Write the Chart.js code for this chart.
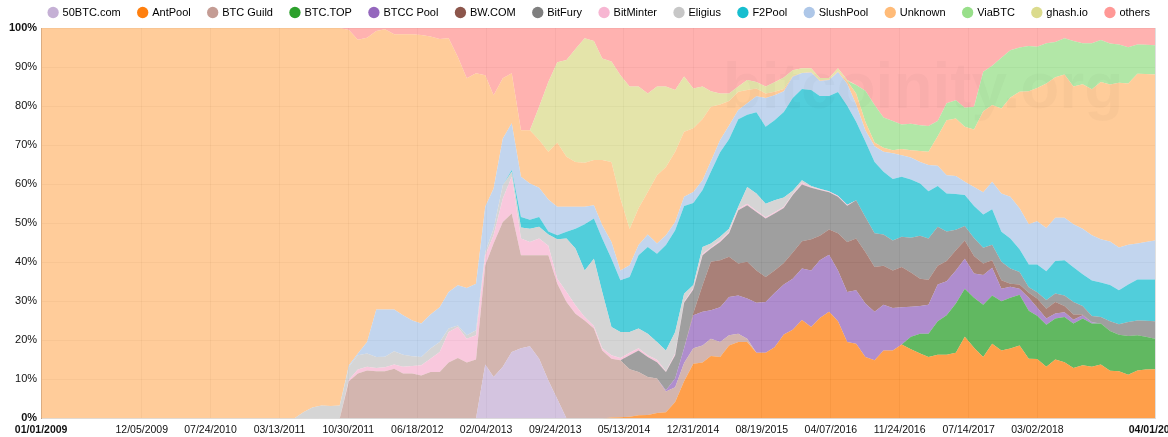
<!DOCTYPE html>
<html>
<head>
<meta charset="utf-8">
<title>Mining pools share</title>
<script src="https://cdn.jsdelivr.net/npm/chart.js@4.4.0/dist/chart.umd.min.js"></script>
<style>
  html, body { margin: 0; padding: 0; background: #fff; }
  #wrap { width: 1168px; height: 437px; }
</style>
</head>
<body>
<div id="wrap"><canvas id="chart" width="1168" height="437"></canvas></div>
<script>
// month of each sample (share in % of blocks found)
const months = [
  '2009-01', '2011-03', '2011-05', '2011-06', '2011-07', '2011-08', '2011-09', '2011-10', '2011-11', '2011-12',
  '2012-01', '2012-02', '2012-03', '2012-04', '2012-05', '2012-06', '2012-07', '2012-08', '2012-09', '2012-10', '2012-11', '2012-12',
  '2013-01', '2013-02', '2013-03', '2013-04', '2013-05', '2013-06', '2013-07', '2013-08', '2013-09', '2013-10', '2013-11', '2013-12',
  '2014-01', '2014-02', '2014-03', '2014-04', '2014-05', '2014-06', '2014-07', '2014-08', '2014-09', '2014-10', '2014-11', '2014-12',
  '2015-01', '2015-02', '2015-03', '2015-04', '2015-05', '2015-06', '2015-07', '2015-08', '2015-09', '2015-10', '2015-11', '2015-12',
  '2016-01', '2016-02', '2016-03', '2016-04', '2016-05', '2016-06', '2016-07', '2016-08', '2016-09', '2016-10', '2016-11', '2016-12',
  '2017-01', '2017-02', '2017-03', '2017-04', '2017-05', '2017-06', '2017-07', '2017-08', '2017-09', '2017-10', '2017-11', '2017-12',
  '2018-01', '2018-02', '2018-03', '2018-04', '2018-05', '2018-06', '2018-07', '2018-08', '2018-09', '2018-10', '2018-11', '2018-12',
  '2019-01', '2019-02', '2019-03', '2019-04'
];

const fiftyBtc = [
  0, 0, 0, 0, 0, 0, 0, 0, 0, 0,
  0, 0, 0, 0, 0, 0, 0, 0, 0, 0, 0, 0,
  0, 13.8, 10.6, 13.2, 17.0, 18.0, 18.5, 15.3, 9.7, 5.0, 0, 0,
  0, 0, 0, 0, 0, 0, 0, 0, 0, 0, 0, 0,
  0, 0, 0, 0, 0, 0, 0, 0, 0, 0, 0, 0,
  0, 0, 0, 0, 0, 0, 0, 0, 0, 0, 0, 0,
  0, 0, 0, 0, 0, 0, 0, 0, 0, 0, 0, 0,
  0, 0, 0, 0, 0, 0, 0, 0, 0, 0, 0, 0,
  0, 0, 0, 0
];
const antPool = [
  0, 0, 0, 0, 0, 0, 0, 0, 0, 0,
  0, 0, 0, 0, 0, 0, 0, 0, 0, 0, 0, 0,
  0, 0, 0, 0, 0, 0, 0, 0, 0, 0, 0, 0,
  0, 0, 0, 0.2, 0.3, 0.4, 0.8, 0.9, 1.4, 1.6, 4.2, 9.5,
  14.0, 14.3, 16.0, 15.7, 18.7, 19.6, 19.6, 16.8, 16.8, 18.2, 21.5, 22.7,
  25.2, 23.4, 25.7, 27.3, 24.9, 19.6, 19.1, 15.7, 14.9, 17.4, 17.4, 18.9,
  17.7, 16.6, 15.7, 16.3, 16.3, 16.8, 20.9, 18.1, 15.7, 19.1, 17.4, 17.9,
  18.7, 15.3, 15.2, 13.2, 15.1, 14.4, 12.9, 13.6, 13.2, 13.8, 12.2, 12.1,
  11.2, 12.3, 12.5, 12.6
];
const btcGuild = [
  0, 0, 0, 0, 0, 0, 0, 0, 9.5, 11.5,
  12.3, 12.1, 12.1, 12.7, 11.5, 11.5, 11.0, 11.9, 11.9, 14.3, 15.5, 14.3,
  15.1, 25.4, 34.2, 37.1, 35.5, 23.8, 23.3, 26.5, 32.1, 29.5, 29.8, 26.8,
  25.1, 23.0, 17.4, 15.1, 14.6, 12.2, 11.1, 9.7, 8.8, 5.3, 3.8, 4.7,
  4.0, 4.4, 4.4, 3.9, 2.6, 2.1, 0.8, 0, 0, 0, 0, 0,
  0, 0, 0, 0, 0, 0, 0, 0, 0, 0, 0, 0,
  0, 0, 0, 0, 0, 0, 0, 0, 0, 0, 0, 0,
  0, 0, 0, 0, 0, 0, 0, 0, 0, 0, 0, 0,
  0, 0, 0, 0
];
const btcTop = [
  0, 0, 0, 0, 0, 0, 0, 0, 0, 0,
  0, 0, 0, 0, 0, 0, 0, 0, 0, 0, 0, 0,
  0, 0, 0, 0, 0, 0, 0, 0, 0, 0, 0, 0,
  0, 0, 0, 0, 0, 0, 0, 0, 0, 0, 0, 0,
  0, 0, 0, 0, 0, 0, 0, 0, 0, 0, 0, 0,
  0, 0, 0, 0, 0, 0, 0, 0, 0, 0, 0, 0,
  3.2, 5.1, 6.0, 8.6, 10.1, 12.6, 12.3, 12.8, 13.4, 12.4, 12.6, 13.0,
  13.0, 12.3, 11.1, 10.8, 10.5, 11.6, 11.4, 12.0, 11.1, 10.5, 10.2, 9.3,
  9.9, 9.0, 8.4, 7.8
];
const btccPool = [
  0, 0, 0, 0, 0, 0, 0, 0, 0, 0,
  0, 0, 0, 0, 0, 0, 0, 0, 0, 0, 0, 0,
  0, 0, 0, 0, 0, 0, 0, 0, 0, 0, 0, 0,
  0, 0, 0, 0, 0, 0, 0, 0, 0, 0.3, 2.2, 3.8,
  8.4, 8.6, 7.3, 8.9, 9.8, 9.8, 10.3, 12.8, 13.0, 13.9, 12.8, 13.1,
  13.2, 14.5, 14.8, 14.6, 13.0, 12.8, 13.7, 13.7, 12.4, 11.7, 10.9, 9.6,
  7.7, 7.1, 7.4, 9.4, 8.7, 8.5, 7.7, 6.2, 7.6, 7.1, 3.2, 2.8,
  1.5, 3.3, 2.1, 1.6, 1.3, 1.2, 1.0, 0.8, 0.3, 0, 0, 0,
  0, 0, 0, 0
];
const bwCom = [
  0, 0, 0, 0, 0, 0, 0, 0, 0, 0,
  0, 0, 0, 0, 0, 0, 0, 0, 0, 0, 0, 0,
  0, 0, 0, 0, 0, 0, 0, 0, 0, 0, 0, 0,
  0, 0, 0, 0, 0, 0, 0, 0, 0, 0, 0, 0,
  0.6, 6.8, 12.4, 12.0, 10.3, 8.2, 9.4, 8.3, 6.4, 5.8, 5.5, 6.7,
  7.0, 8.0, 6.3, 6.5, 9.5, 12.8, 13.3, 13.2, 11.5, 10.0, 9.6, 10.3,
  8.8, 7.0, 6.4, 4.8, 5.2, 5.2, 4.7, 4.5, 3.0, 1.9, 2.2, 0.8,
  1.1, 1.3, 2.3, 2.5, 2.9, 1.6, 1.3, 0.2, 0, 0, 0, 0,
  0, 0, 0, 0
];
const bitFury = [
  0, 0, 0, 0, 0, 0, 0, 0, 0, 0,
  0, 0, 0, 0, 0, 0, 0, 0, 0, 0, 0, 0,
  0, 0, 0, 0, 0, 0, 0, 0, 0, 0, 0, 0,
  0, 0, 0, 0, 0, 3.6, 5.5, 5.1, 4.2, 4.7, 6.0, 11.6,
  6.0, 7.7, 3.4, 4.7, 6.0, 13.6, 14.5, 15.0, 15.0, 14.6, 14.1, 14.7,
  14.5, 13.2, 11.7, 9.5, 9.4, 9.3, 9.8, 9.0, 8.6, 8.0, 7.7, 7.7,
  8.9, 11.0, 10.6, 10.0, 7.6, 5.2, 3.7, 4.6, 4.0, 4.0, 4.7, 3.9,
  3.2, 1.4, 1.6, 2.2, 2.2, 2.7, 3.2, 2.2, 1.6, 1.7, 2.5, 2.7,
  3.6, 3.8, 4.1, 4.5
];
const bitMinter = [
  0, 0, 0, 0, 0, 0, 0, 0, 0.4, 1.0,
  0.9, 0.8, 1.0, 1.1, 1.7, 1.9, 2.6, 3.4, 5.1, 7.8, 7.9, 6.1,
  6.2, 2.6, 2.1, 6.0, 9.4, 4.3, 3.4, 4.3, 2.4, 1.3, 2.6, 2.2,
  0.9, 0.7, 0.6, 0.9, 0.6, 0.6, 0.6, 0.5, 0.6, 0.2, 0.4, 0.3,
  0.4, 0.4, 0.3, 0.4, 0.4, 0.4, 0.4, 0.3, 0.3, 0.3, 0.3, 0.3,
  0.5, 0.2, 0.2, 0.2, 0.2, 0.2, 0, 0, 0, 0, 0, 0,
  0, 0, 0, 0, 0, 0, 0, 0, 0, 0, 0, 0,
  0, 0, 0, 0, 0, 0, 0, 0, 0, 0, 0, 0,
  0, 0, 0, 0
];
const eligius = [
  0, 0, 0, 1.6, 2.8, 3.3, 3.2, 3.3, 3.3, 3.7,
  3.4, 2.8, 2.7, 3.4, 3.1, 2.5, 2.1, 2.6, 2.6, 0.9, 0.4, 0.9,
  1.3, 0.8, 1.7, 3.4, 1.3, 2.8, 3.4, 3.0, 2.9, 10.1, 13.7, 14.5,
  11.9, 17.2, 14.4, 7.2, 6.6, 5.3, 5.0, 5.5, 4.6, 5.3, 5.5, 2.0,
  0.8, 1.7, 1.0, 0.9, 0.8, 0.5, 4.3, 4.4, 3.5, 3.1, 2.4, 0.8,
  0.6, 0.2, 0.1, 0.1, 0, 0, 0, 0, 0, 0, 0, 0,
  0, 0, 0, 0, 0, 0, 0, 0, 0, 0, 0, 0,
  0, 0, 0, 0, 0, 0, 0, 0, 0, 0, 0, 0,
  0, 0, 0, 0
];
const f2Pool = [
  0, 0, 0, 0, 0, 0, 0, 0, 0, 0,
  0, 0, 0, 0, 0, 0, 0, 0, 0, 0, 0, 0,
  0, 0, 0, 0, 0.4, 2.7, 2.3, 2.5, 0.8, 1.0, 1.7, 5.1,
  11.8, 10.3, 13.7, 17.5, 13.3, 14.1, 18.8, 22.2, 22.6, 27.0, 26.1, 22.5,
  21.0, 14.6, 18.4, 21.7, 22.9, 22.4, 18.5, 20.8, 19.7, 20.5, 21.9, 23.8,
  23.4, 24.6, 23.8, 24.4, 26.6, 25.4, 20.1, 19.3, 18.3, 16.1, 15.7, 15.4,
  14.9, 13.4, 12.1, 10.4, 9.7, 9.2, 7.9, 8.2, 8.5, 9.1, 7.7, 7.7,
  5.8, 5.8, 7.1, 7.4, 8.3, 9.0, 8.9, 8.1, 9.1, 8.8, 9.3, 8.7,
  9.6, 10.5, 10.6, 10.7
];
const slushPool = [
  0, 0, 0, 0, 0, 0, 0, 0, 0.4, 0.4,
  3.0, 12.2, 12.1, 10.7, 10.1, 9.2, 8.6, 8.7, 8.9, 9.4, 10.3, 12.1,
  11.9, 11.6, 10.3, 12.0, 12.0, 10.3, 9.3, 7.5, 8.2, 7.3, 6.4, 5.6,
  4.5, 3.4, 3.4, 4.3, 2.5, 3.0, 2.6, 3.2, 2.6, 2.5, 2.1, 2.4,
  2.8, 2.5, 2.7, 3.1, 3.5, 2.4, 2.9, 4.1, 7.4, 6.4, 5.3, 5.4,
  4.1, 4.5, 3.8, 4.1, 5.1, 5.6, 4.4, 2.9, 4.0, 5.1, 6.6, 5.5,
  5.6, 5.5, 6.7, 5.2, 4.7, 4.6, 3.4, 4.9, 5.7, 7.0, 9.8, 10.7,
  10.5, 10.3, 11.1, 11.1, 11.1, 10.9, 11.0, 11.7, 11.6, 11.1, 11.1, 11.0,
  10.2, 9.2, 9.6, 10.0
];
const unknown = [
  100, 100, 100, 98.4, 97.2, 96.7, 96.8, 96.7, 85.9, 80.4,
  77.9, 71.3, 71.8, 70.5, 72.0, 73.3, 73.9, 71.2, 68.7, 65.0, 58.5, 53.7,
  53.9, 33.7, 23.9, 15.4, 12.8, 11.9, 13.6, 12.2, 12.2, 16.5, 12.8, 11.5,
  11.3, 11.6, 16.7, 20.5, 18.4, 9.3, 9.4, 10.9, 17.5, 17.5, 18.0, 16.6,
  16.3, 15.7, 13.9, 9.1, 6.3, 4.7, 3.4, 2.0, 1.1, 0.9, 0.6, 0.2,
  0, 0.2, 0.2, 0.1, 0.2, 0.7, 2.8, 2.2, 1.0, 1.0, 0.8, 1.6,
  1.9, 2.8, 3.4, 7.6, 14.1, 14.7, 14.1, 14.7, 20.8, 19.7, 21.8, 25.4,
  29.9, 34.1, 34.1, 37.0, 36.0, 36.7, 35.3, 37.0, 37.4, 40.3, 40.2, 42.2,
  41.3, 43.5, 43.0, 42.5
];
const viaBtc = [
  0, 0, 0, 0, 0, 0, 0, 0, 0, 0,
  0, 0, 0, 0, 0, 0, 0, 0, 0, 0, 0, 0,
  0, 0, 0, 0, 0, 0, 0, 0, 0, 0, 0, 0,
  0, 0, 0, 0, 0, 0, 0, 0, 0, 0, 0, 0,
  0, 0, 0, 0, 0, 0, 0, 0, 0, 0, 0, 0,
  0, 0, 0, 0, 0, 0, 2.2, 7.9, 9.6, 7.8, 7.5, 6.3,
  6.8, 6.6, 6.6, 3.9, 4.3, 4.7, 4.9, 5.8, 10.1, 10.0, 13.0, 12.1,
  11.3, 11.6, 10.6, 10.3, 9.0, 9.3, 11.7, 10.5, 11.8, 10.7, 10.5, 9.8,
  9.3, 7.5, 7.5, 7.5
];
const ghashIo = [
  0, 0, 0, 0, 0, 0, 0, 0, 0, 0,
  0, 0, 0, 0, 0, 0, 0, 0, 0, 0, 0, 0,
  0, 0, 0, 0, 0, 0, 0, 8.5, 17.9, 20.5, 24.8, 28.9,
  31.9, 30.5, 26.0, 25.7, 31.6, 36.5, 31.2, 25.2, 22.7, 20.6, 15.8, 14.2,
  10.2, 8.3, 4.0, 2.8, 1.9, 1.3, 2.6, 1.7, 1.8, 2.4, 2.9, 1.5,
  1.2, 0.9, 0.6, 0.4, 0.8, 0.3, 0, 0, 0, 0, 0, 0,
  0, 0, 0, 0, 0, 0, 0, 0, 0, 0, 0, 0,
  0, 0, 0, 0, 0, 0, 0, 0, 0, 0, 0, 0,
  0, 0, 0, 0
];
const others = [
  0, 0, 0, 0, 0, 0, 0, 0, 0.5, 3.0,
  2.5, 0.8, 0.3, 1.6, 1.6, 1.6, 1.8, 2.2, 2.8, 2.6, 7.4, 12.9,
  11.6, 12.1, 17.2, 12.9, 11.6, 26.2, 26.2, 20.2, 13.8, 8.8, 8.2, 5.4,
  2.6, 3.3, 7.8, 8.6, 12.1, 15.0, 15.0, 16.8, 15.0, 15.0, 15.9, 12.4,
  15.5, 15.0, 16.2, 16.8, 16.8, 15.0, 13.3, 13.8, 15.0, 13.9, 12.7, 10.8,
  10.3, 10.3, 12.8, 12.8, 10.3, 13.3, 14.6, 16.1, 19.7, 22.9, 23.8, 24.7,
  24.5, 24.9, 25.1, 23.8, 19.3, 18.5, 20.4, 20.2, 11.2, 9.7, 7.6, 5.7,
  5.0, 4.6, 4.8, 3.9, 3.6, 2.6, 3.3, 3.9, 3.9, 3.1, 4.0, 4.2,
  4.9, 4.2, 4.3, 4.4
];

const poolNames = ['50BTC.com', 'AntPool', 'BTC Guild', 'BTC.TOP', 'BTCC Pool', 'BW.COM', 'BitFury',
  'BitMinter', 'Eligius', 'F2Pool', 'SlushPool', 'Unknown', 'ViaBTC', 'ghash.io', 'others'];
const poolValues = [fiftyBtc, antPool, btcGuild, btcTop, btccPool, bwCom, bitFury,
  bitMinter, eligius, f2Pool, slushPool, unknown, viaBtc, ghashIo, others];
const poolColors = ['#c5b0d5', '#ff7f0e', '#c49c94', '#2ca02c', '#9467bd', '#8c564b', '#7f7f7f',
  '#f7b6d2', '#c7c7c7', '#17becf', '#aec7e8', '#ffbb78', '#98df8a', '#dbdb8d', '#ff9896'];

// x axis labels
const tickDates = ['2009-01-01', '2009-12-05', '2010-07-24', '2011-03-13', '2011-10-30', '2012-06-18',
  '2013-02-04', '2013-09-24', '2014-05-13', '2014-12-31', '2015-08-19', '2016-04-07',
  '2016-11-24', '2017-07-14', '2018-03-02', '2019-04-01'];

const FONT = '"Liberation Sans", Arial, Helvetica, sans-serif';
const toTime = s => Date.parse((s.length === 7 ? s + '-01' : s) + 'T00:00:00Z');
const pad2 = n => String(n).padStart(2, '0');
const fmtDate = t => {
  const d = new Date(t);
  return pad2(d.getUTCMonth() + 1) + '/' + pad2(d.getUTCDate()) + '/' + d.getUTCFullYear();
};
function fade(hex, a) {
  const n = parseInt(hex.slice(1), 16);
  return 'rgba(' + (n >> 16) + ',' + ((n >> 8) & 255) + ',' + (n & 255) + ',' + a + ')';
}

const datasets = poolNames.map((name, i) => ({
  label: name,
  data: poolValues[i].map((v, j) => ({ x: toTime(months[j]), y: v })),
  backgroundColor: fade(poolColors[i], 0.75),
  borderColor: 'transparent',
  borderWidth: 0,
  pointRadius: 0,
  tension: 0,
  fill: i === 0 ? 'origin' : '-1'
}));

// faint site watermark
const watermark = {
  id: 'watermark',
  afterDatasetsDraw(chart) {
    const { ctx, chartArea } = chart;
    ctx.save();
    ctx.font = 'bold 64px ' + FONT;
    ctx.fillStyle = 'rgba(0,0,0,0.025)';
    ctx.textAlign = 'center';
    ctx.fillText('bitcoinity.org', chartArea.right - 232, chartArea.top + 62);
    ctx.restore();
  }
};

new Chart(document.getElementById('chart'), {
  type: 'line',
  data: { datasets },
  plugins: [watermark],
  options: {
    responsive: false,
    devicePixelRatio: 1,
    animation: false,
    events: [],
    layout: { padding: { top: -11, left: 5, right: 0, bottom: -4 } },
    plugins: {
      tooltip: { enabled: false },
      legend: {
        position: 'top',
        align: 'end',
        labels: {
          usePointStyle: true,
          boxWidth: 8,
          boxHeight: 8,
          padding: 18,
          color: '#222',
          font: { family: FONT, size: 11 },
          generateLabels: chart => chart.data.datasets.map((ds, i) => ({
            text: ds.label,
            fillStyle: poolColors[i],
            strokeStyle: poolColors[i],
            lineWidth: 0,
            pointStyle: 'circle',
            hidden: false,
            datasetIndex: i
          }))
        }
      }
    },
    scales: {
      x: {
        type: 'linear',
        min: toTime('2009-01-01'),
        max: toTime('2019-04-01'),
        afterBuildTicks: scale => { scale.ticks = tickDates.map(d => ({ value: toTime(d) })); },
        // keep the plot wide; the last date label runs off the canvas as in the original
        afterFit: scale => { scale.paddingLeft = 0; scale.paddingRight = 13; },
        grid: { color: 'rgba(0,0,0,0.12)', drawTicks: false },
        border: { color: '#ddd' },
        ticks: {
          autoSkip: false,
          maxRotation: 0,
          padding: 5,
          color: '#111',
          font: ctx => ({ family: FONT, size: 10.5, weight: (ctx.index === 0 || ctx.index === tickDates.length - 1) ? 'bold' : 'normal' }),
          callback: v => fmtDate(v)
        }
      },
      y: {
        stacked: true,
        min: 0,
        max: 100,
        grid: { color: 'rgba(0,0,0,0.12)', drawTicks: false },
        border: { color: '#b9a08c' },
        ticks: {
          stepSize: 10,
          padding: 4,
          color: '#111',
          font: ctx => ({ family: FONT, size: 11, weight: (ctx.tick && (ctx.tick.value === 0 || ctx.tick.value === 100)) ? 'bold' : 'normal' }),
          callback: v => v + '%'
        }
      }
    }
  }
});
</script>
</body>
</html>
